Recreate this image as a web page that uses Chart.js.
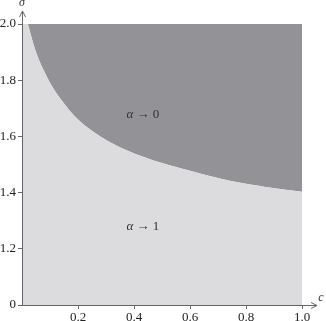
<!DOCTYPE html>
<html>
<head>
<meta charset="utf-8">
<script src="https://cdn.jsdelivr.net/npm/chart.js@4"></script>
<style>
    html, body { margin: 0; padding: 0; background: #fff; }
    #wrap { width: 326px; height: 321px; }
</style>
</head>
<body>
<div id="wrap"><canvas id="grafico"></canvas></div>
<script>
// Dados: fronteira entre as regiões (o trecho acima de 2.0 é cortado)
const valoresC = [0, 0.021, 0.05, 0.09, 0.14, 0.2, 0.28, 0.38, 0.5, 0.62, 0.75, 0.87, 1.0];
const valoresSigma = [2.08, 2.0, 1.900, 1.810, 1.730, 1.66, 1.600, 1.548, 1.505, 1.472, 1.440, 1.420, 1.403];
const ticksX = [0.2, 0.4, 0.6, 0.8, 1.0];
const ticksY = [1.0, 1.2, 1.4, 1.6, 1.8, 2.0];
const rotulosY = ['0', '1.2', '1.4', '1.6', '1.8', '2.0'];
const textos = ['\u2192 0', '\u2192 1'];
const textosC = [0.432, 0.432];
const textosSigma = [1.678, 1.279];

const corEscura = 'rgb(147, 147, 151)';
const corClara = 'rgb(220, 220, 222)';
const corEixo = '#666';
const fonteSerif = '"Liberation Serif", "DejaVu Serif", serif';

const pontos = valoresC.map((c, i) => ({ x: c, y: valoresSigma[i] }));

// Eixos com setas e rótulos de texto
const pluginEixos = {
    id: 'eixos',
    afterDraw(chart) {
        const { ctx, chartArea, scales } = chart;
        const esq = chartArea.left, base = chartArea.bottom;
        ctx.save();
        ctx.strokeStyle = corEixo;
        ctx.lineWidth = 1;
        // eixo y até a seta
        ctx.beginPath();
        ctx.moveTo(esq + 0.5, base);
        ctx.lineTo(esq + 0.5, 12);
        ctx.moveTo(esq + 0.5 - 3, 17);
        ctx.lineTo(esq + 0.5, 11);
        ctx.lineTo(esq + 0.5 + 3, 17);
        // eixo x até a seta
        ctx.moveTo(esq, base + 0.5);
        ctx.lineTo(316, base + 0.5);
        ctx.moveTo(311, base + 0.5 - 3);
        ctx.lineTo(317, base + 0.5);
        ctx.lineTo(311, base + 0.5 + 3);
        ctx.stroke();

        ctx.fillStyle = '#333';
        ctx.font = 'italic 12px ' + fonteSerif;
        ctx.textAlign = 'center';
        ctx.textBaseline = 'middle';
        ctx.fillText('\u03c3', esq, 3);
        ctx.fillText('c', 321, base - 7);

        // rótulos das regiões: alfa em itálico + seta
        textos.forEach((t, i) => {
            const px = scales.x.getPixelForValue(textosC[i]);
            const py = scales.y.getPixelForValue(textosSigma[i]);
            ctx.font = '13px ' + fonteSerif;
            const wT = ctx.measureText(t).width;
            ctx.font = 'italic 13px ' + fonteSerif;
            const wA = ctx.measureText('\u03b1 ').width;
            const x0 = px - (wT + wA) / 2;
            ctx.textAlign = 'left';
            ctx.fillText('\u03b1 ', x0, py);
            ctx.font = '13px ' + fonteSerif;
            ctx.fillText(t, x0 + wA, py);
        });
        ctx.restore();
    }
};

new Chart(document.getElementById('grafico'), {
    type: 'line',
    data: {
        datasets: [
            {
                data: pontos,
                borderWidth: 0,
                pointRadius: 0,
                backgroundColor: corClara,
                fill: 'start',
                cubicInterpolationMode: 'monotone'
            },
            {
                data: pontos,
                borderWidth: 0,
                pointRadius: 0,
                backgroundColor: corEscura,
                fill: 'end',
                cubicInterpolationMode: 'monotone'
            }
        ]
    },
    options: {
        responsive: true,
        maintainAspectRatio: false,
        animation: false,
        layout: { padding: { top: 24, right: 24, left: 0, bottom: 0 } },
        plugins: { legend: { display: false }, tooltip: { enabled: false } },
        scales: {
            x: {
                type: 'linear',
                min: 0,
                max: 1,
                afterFit: (s) => { s.height = 16; },
                afterBuildTicks: (s) => { s.ticks = ticksX.map(v => ({ value: v })); },
                ticks: {
                    padding: 1,
                    color: '#222',
                    font: { family: fonteSerif, size: 13 },
                    callback: (v) => v.toFixed(1)
                },
                grid: { drawOnChartArea: false, tickLength: 4, color: corEixo },
                border: { display: false }
            },
            y: {
                type: 'linear',
                min: 1,
                max: 2,
                afterFit: (s) => { s.width = 22; },
                afterBuildTicks: (s) => { s.ticks = ticksY.map(v => ({ value: v })); },
                ticks: {
                    padding: 2,
                    color: '#222',
                    font: { family: fonteSerif, size: 13 },
                    callback: (v) => rotulosY[ticksY.findIndex(t => Math.abs(t - v) < 1e-6)]
                },
                grid: { drawOnChartArea: false, tickLength: 4, color: corEixo },
                border: { display: false }
            }
        }
    },
    plugins: [pluginEixos]
});
</script>
</body>
</html>
